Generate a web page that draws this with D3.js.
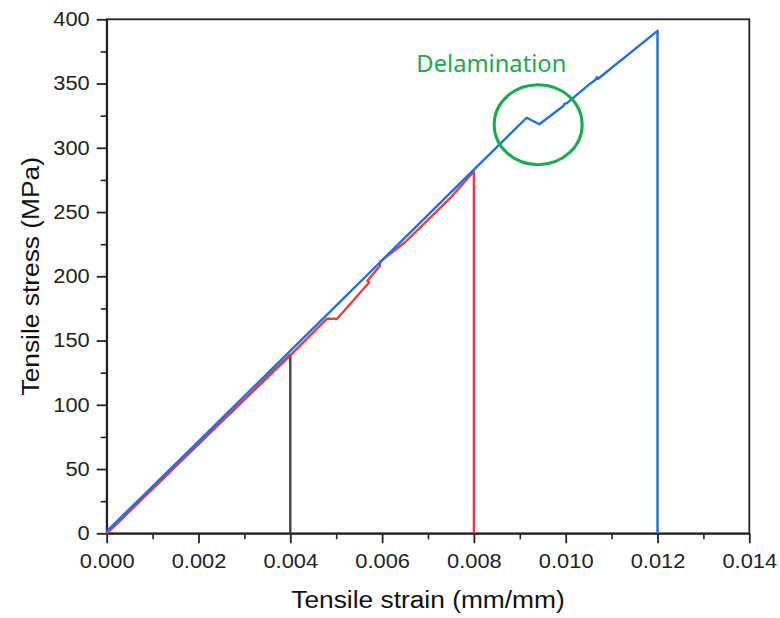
<!DOCTYPE html>
<html>
<head>
<meta charset="utf-8">
<script src="https://cdn.jsdelivr.net/npm/d3@7"></script>
<style>
  body { margin: 0; background: #fff; }
  svg { display: block; }
</style>
</head>
<body>
<div id="chart"></div>
<script>
// strain (mm/mm) and stress (MPa)
const blackStrain = [0, 0.0040, 0.0040];
const blackStress = [0, 139, 0];

const redStrain = [0, 0.0020, 0.0040, 0.0048, 0.00502, 0.00565, 0.00572, 0.00568, 0.00595, 0.00596, 0.0065, 0.0075, 0.0080, 0.0080];
const redStress = [0, 69.5, 138.5, 167, 167, 192.5, 195, 196.5, 208, 211.5, 226.5, 261.5, 281.5, 0];

const blueStrain = [0, 0.0020, 0.0040, 0.0060, 0.0080, 0.00915, 0.009425, 0.00995, 0.00998, 0.01002, 0.0105, 0.01064, 0.01068, 0.0107, 0.0120, 0.0120];
const blueStress = [1.5, 71.5, 142, 212.5, 283, 323.4, 318.3, 332.5, 334.6, 334.6, 349, 352.5, 355, 353.5, 391, 0];

const xTicks = [0, 0.002, 0.004, 0.006, 0.008, 0.010, 0.012, 0.014];
const xMinor = [0.001, 0.003, 0.005, 0.007, 0.009, 0.011, 0.013];
const yTicks = [0, 50, 100, 150, 200, 250, 300, 350, 400];
const yMinor = [25, 75, 125, 175, 225, 275, 325, 375];

const noteLabel = "Delamination";
const noteText = [0.00838, 359];   // strain, stress of label baseline centre
const noteCircle = [0.00940, 318]; // strain, stress of ellipse centre

const W = 780, H = 618;
const margin = { top: 19.3, right: 30.7, bottom: 84.7, left: 106.7 };
const width = W - margin.left - margin.right;
const height = H - margin.top - margin.bottom;
const stretch = 1.12;

const svg = d3.select("#chart").append("svg")
  .attr("width", W)
  .attr("height", H);

const g = svg.append("g")
  .attr("transform", "translate(" + margin.left + "," + margin.top + ")");

const xScale = d3.scaleLinear().domain([0, 0.014]).range([0, width]);
const yScale = d3.scaleLinear().domain([0, 400]).range([height, 0]);

const font = "'Liberation Sans', Arial, sans-serif";
const axisColor = "#222";

function stretchText(sel) {
  sel.each(function () {
    const len = this.getComputedTextLength();
    d3.select(this).attr("textLength", len * stretch).attr("lengthAdjust", "spacingAndGlyphs");
  });
}

// minor ticks
g.append("g")
  .attr("transform", "translate(0," + height + ")")
  .call(d3.axisBottom(xScale).tickValues(xMinor).tickSize(6).tickFormat("").tickSizeOuter(0))
  .call(a => a.select(".domain").remove())
  .call(a => a.selectAll("line").attr("stroke", axisColor).attr("stroke-width", 1.6));

g.append("g")
  .call(d3.axisLeft(yScale).tickValues(yMinor).tickSize(6).tickFormat("").tickSizeOuter(0))
  .call(a => a.select(".domain").remove())
  .call(a => a.selectAll("line").attr("stroke", axisColor).attr("stroke-width", 1.6));

// frame (top and right)
g.append("rect")
  .attr("x", 0).attr("y", 0)
  .attr("width", width).attr("height", height)
  .attr("fill", "none")
  .attr("stroke", axisColor)
  .attr("stroke-width", 1.8);

// major axes
const xAxis = g.append("g")
  .attr("transform", "translate(0," + height + ")")
  .call(d3.axisBottom(xScale).tickValues(xTicks).tickFormat(d3.format(".3f"))
    .tickSize(10).tickPadding(11).tickSizeOuter(0));

const yAxis = g.append("g")
  .call(d3.axisLeft(yScale).tickValues(yTicks).tickFormat(d3.format("d"))
    .tickSize(10).tickPadding(7).tickSizeOuter(0));

[xAxis, yAxis].forEach(a => {
  a.select(".domain").attr("stroke", axisColor).attr("stroke-width", 1.8);
  a.selectAll(".tick line").attr("stroke", axisColor).attr("stroke-width", 1.8);
  a.selectAll(".tick text")
    .attr("fill", "#222")
    .style("font-family", font)
    .style("font-size", "19.5px")
    .call(stretchText);
});

// curves: black, red, blue (blue on top)
const series = [
  { xs: blackStrain, ys: blackStress, color: "#444444" },
  { xs: redStrain, ys: redStress, color: "#ee3b3f" },
  { xs: blueStrain, ys: blueStress, color: "#1f6fe5" }
];

const line = d3.line()
  .x(d => xScale(d[0]))
  .y(d => yScale(d[1]));

for (const s of series) {
  g.append("path")
    .datum(s.xs.map((x, i) => [x, s.ys[i]]))
    .attr("fill", "none")
    .attr("stroke", s.color)
    .attr("stroke-width", 2.4)
    .attr("stroke-linejoin", "round")
    .attr("d", line);
}

// annotation
g.append("ellipse")
  .attr("cx", xScale(noteCircle[0]))
  .attr("cy", yScale(noteCircle[1]))
  .attr("rx", 44)
  .attr("ry", 40)
  .attr("fill", "none")
  .attr("stroke", "#17ad4b")
  .attr("stroke-width", 3);

g.append("text")
  .attr("x", xScale(noteText[0]))
  .attr("y", yScale(noteText[1]))
  .attr("text-anchor", "middle")
  .attr("fill", "#17ad4b")
  .style("font-family", "'Noto Sans', 'Open Sans', sans-serif")
  .style("font-size", "23px")
  .text(noteLabel)
  .attr("textLength", 150)
  .attr("lengthAdjust", "spacingAndGlyphs");

// axis titles
svg.append("text")
  .attr("x", margin.left + width / 2)
  .attr("y", 608)
  .attr("text-anchor", "middle")
  .attr("fill", "#111")
  .style("font-family", font)
  .style("font-size", "23.5px")
  .text("Tensile strain (mm/mm)")
  .call(stretchText);

svg.append("text")
  .attr("transform", "translate(39," + (margin.top + height / 2) + ") rotate(-90)")
  .attr("text-anchor", "middle")
  .attr("fill", "#111")
  .style("font-family", font)
  .style("font-size", "23.5px")
  .text("Tensile stress (MPa)")
  .call(stretchText);
</script>
</body>
</html>
